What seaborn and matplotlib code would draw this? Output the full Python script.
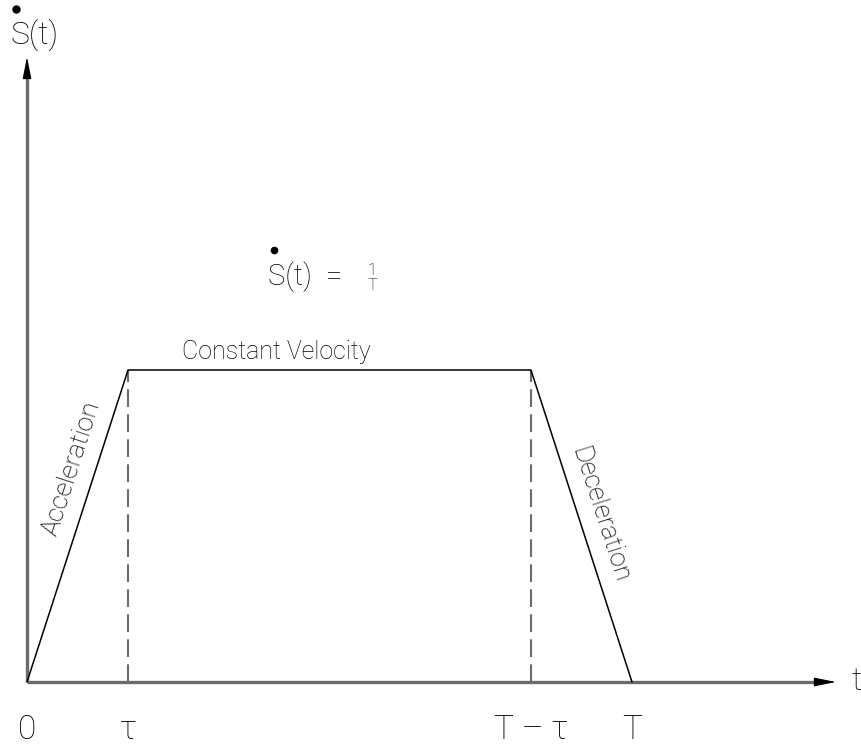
import matplotlib
matplotlib.use("Agg")
import matplotlib.pyplot as plt
import seaborn as sns
import pandas as pd

# Trapezoidal velocity profile: knot times and velocity at each knot
t_knots = [0.0, 0.167, 0.833, 1.0]
velocity = [0.0, 1.2, 1.2, 0.0]

# Time-axis tick labels
tick_pos = [0.0, 0.167, 0.833, 1.0]
tick_labels = ["0", "τ", "T – τ", "T"]

# Phase annotations
phase_labels = ["Acceleration", "Constant Velocity", "Deceleration"]

sns.set_theme(style="white")
plt.rcParams["font.family"] = ["Roboto", "DejaVu Sans"]
plt.rcParams["font.weight"] = "light"

W, H = 862, 755
fig = plt.figure(figsize=(W / 100, H / 100), dpi=100)
ax = fig.add_axes([0, 0, 1, 1])
ax.axis("off")

# layout: origin at pixel (27, 682); 605 px per unit time, 260 px per unit velocity
X0, Y0, SX, SY = 27, 682, 605.0, 260.0
ax.set_xlim(-X0 / SX, (W - X0) / SX)
ax.set_ylim(-(H - Y0) / SY, Y0 / SY)


def dx(p):
    return (p - X0) / SX


def dy(p):
    return (Y0 - p) / SY


AXIS_GREY = "#6b6b6b"
TXT = "black"

# coordinate axes with arrowheads
ax.plot([0, dx(820)], [0, 0], color=AXIS_GREY, lw=2.4, solid_capstyle="butt", zorder=1)
ax.plot([0, 0], [0, dy(74)], color=AXIS_GREY, lw=2.4, solid_capstyle="butt", zorder=1)
head = dict(arrowstyle="-|>,head_length=1.35,head_width=0.27", color="black",
            lw=0.8, shrinkA=0, shrinkB=0, mutation_scale=10)
ax.annotate("", xy=(dx(836), 0), xytext=(dx(816), 0), arrowprops=head)
ax.annotate("", xy=(0, dy(57)), xytext=(0, dy(77)), arrowprops=head)

# velocity profile
df = pd.DataFrame({"t": t_knots, "v": velocity})
sns.lineplot(data=df, x="t", y="v", sort=False, estimator=None, color="black",
             lw=1.1, ax=ax, zorder=3)

# dashed guides at the ends of the constant-velocity phase
ax.vlines([t_knots[1], t_knots[2]], 0, velocity[1], colors=AXIS_GREY,
          linestyles=(0, (8.5, 3.5)), lw=1.5, zorder=2)

# tick labels along the time axis
for x, lab in zip(tick_pos, tick_labels):
    ax.annotate(lab, xy=(x, 0), xytext=(0, -48), textcoords="offset pixels",
                ha="center", va="center", fontsize=24, color=TXT)
ax.text(dx(851), 0, "t", ha="left", va="center", fontsize=23, color=TXT)

# axis label  Ṡ(t) (derivative dot drawn as a marker above the S)
ax.text(dx(11), dy(44), "S(t)", ha="left", va="baseline", fontsize=23, color=TXT)
ax.plot(dx(16), dy(9), "o", ms=5, color="black")

# equation  Ṡ(t) = 1/T
ax.text(dx(268), dy(285), "S(t)  =", ha="left", va="baseline", fontsize=21, color=TXT)
ax.plot(dx(274), dy(250), "o", ms=4.5, color="black")
ax.text(dx(372), dy(271), "1", ha="center", va="center", fontsize=12, color=TXT)
ax.text(dx(372), dy(286), "T", ha="center", va="center", fontsize=12, color=TXT)

# phase labels
acc_mid = ((t_knots[0] + t_knots[1]) / 2, (velocity[0] + velocity[1]) / 2)
dec_mid = ((t_knots[2] + t_knots[3]) / 2, (velocity[2] + velocity[3]) / 2)
con_mid = ((t_knots[1] + t_knots[2]) / 2, velocity[1])

ax.annotate(phase_labels[0], xy=acc_mid, xytext=(-6, 58), textcoords="offset pixels",
            ha="center", va="center", rotation=72, rotation_mode="anchor",
            fontsize=19, color=TXT)
ax.annotate(phase_labels[1], xy=con_mid, xytext=(-53, 11), textcoords="offset pixels",
            ha="center", va="baseline", fontsize=18, color=TXT)
ax.annotate(phase_labels[2], xy=dec_mid, xytext=(18, 11), textcoords="offset pixels",
            ha="center", va="center", rotation=-72, rotation_mode="anchor",
            fontsize=19, color=TXT)

fig.savefig("out.png", dpi=100)
